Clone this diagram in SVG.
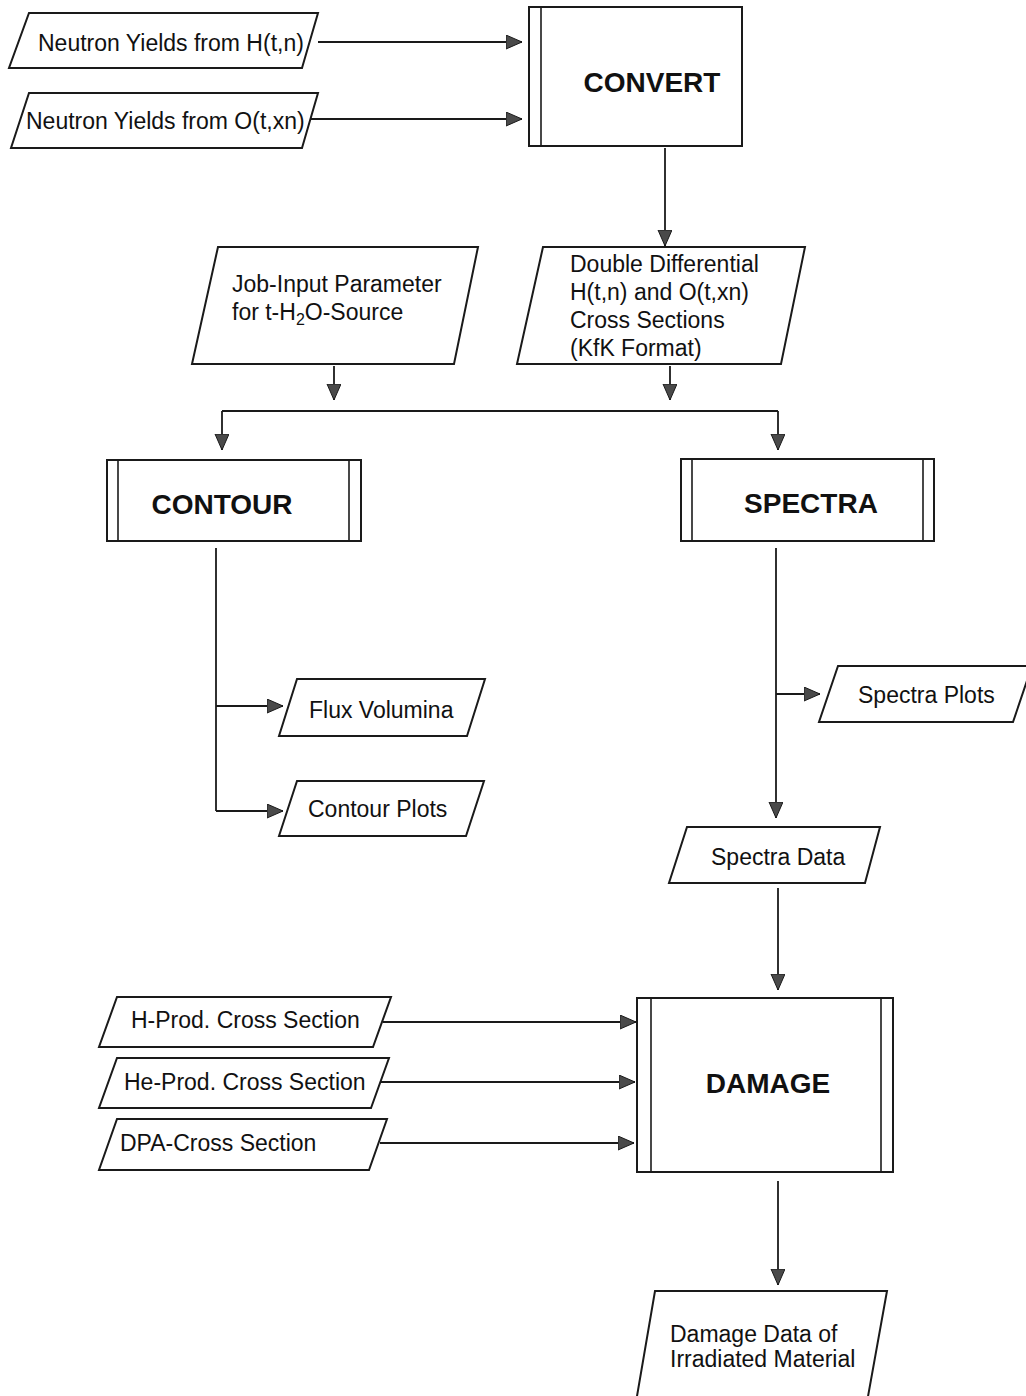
<svg xmlns="http://www.w3.org/2000/svg" width="1026" height="1396" viewBox="0 0 1026 1396">
<style>
.shape{fill:#fff;stroke:#1a1a1a;stroke-width:2}
.inner{stroke:#1a1a1a;stroke-width:1.6}
.lbl{font-family:"Liberation Sans",Arial,sans-serif;font-size:23px;fill:#111}
.proc{font-family:"Liberation Sans",Arial,sans-serif;font-size:28px;font-weight:bold;fill:#111;text-anchor:middle}
.conn{fill:none;stroke:#1a1a1a;stroke-width:1.8}
.sub{font-size:16px}
</style>
<defs>
<marker id="ah" markerUnits="userSpaceOnUse" markerWidth="18" markerHeight="16" refX="16" refY="7" orient="auto">
<path d="M0,0 L16,7 L0,14 Z" fill="#4a4a4a" stroke="#1a1a1a" stroke-width="1"/>
</marker>
</defs>
<rect width="1026" height="1396" fill="#fff"/>

<g id="connectors">
<path class="conn" marker-end="url(#ah)" d="M318,42 H522"/>
<path class="conn" marker-end="url(#ah)" d="M303,119 H522"/>
<path class="conn" marker-end="url(#ah)" d="M665,148 V246"/>
<path class="conn" marker-end="url(#ah)" d="M334,366 V400"/>
<path class="conn" marker-end="url(#ah)" d="M670,366 V400"/>
<path class="conn" d="M222,411 H778"/>
<path class="conn" marker-end="url(#ah)" d="M222,411 V450"/>
<path class="conn" marker-end="url(#ah)" d="M778,411 V450"/>
<path class="conn" d="M216,548 V811"/>
<path class="conn" marker-end="url(#ah)" d="M216,706 H283"/>
<path class="conn" marker-end="url(#ah)" d="M216,811 H283"/>
<path class="conn" marker-end="url(#ah)" d="M776,548 V818"/>
<path class="conn" marker-end="url(#ah)" d="M776,694 H820"/>
<path class="conn" marker-end="url(#ah)" d="M778,888 V990"/>
<path class="conn" marker-end="url(#ah)" d="M383,1022 H636"/>
<path class="conn" marker-end="url(#ah)" d="M381,1082 H635"/>
<path class="conn" marker-end="url(#ah)" d="M380,1143 H634"/>
<path class="conn" marker-end="url(#ah)" d="M778,1181 V1285"/>
</g>

<g id="n_yield_h">
<polygon class="shape" points="29,13 318,13 302,68 9,68"/>
<text class="lbl" x="38" y="51">Neutron Yields from H(t,n)</text>
</g>
<g id="n_yield_o">
<polygon class="shape" points="29,93 318,93 302,148 11,148"/>
<text class="lbl" x="26" y="129">Neutron Yields from O(t,xn)</text>
</g>
<g id="convert">
<rect class="shape" x="529" y="7" width="213" height="139"/>
<line class="inner" x1="541" y1="7" x2="541" y2="146"/>
<text class="proc" x="652" y="92">CONVERT</text>
</g>
<g id="job_input">
<polygon class="shape" points="218,247 478,247 454,364 192,364"/>
<text class="lbl" x="232" y="292">Job-Input Parameter</text>
<text class="lbl" x="232" y="320">for t-H<tspan class="sub" dy="5">2</tspan><tspan dy="-5">O-Source</tspan></text>
</g>
<g id="double_diff">
<polygon class="shape" points="543,247 805,247 781,364 517,364"/>
<text class="lbl" x="570" y="272">Double Differential</text>
<text class="lbl" x="570" y="300">H(t,n) and O(t,xn)</text>
<text class="lbl" x="570" y="328">Cross Sections</text>
<text class="lbl" x="570" y="356">(KfK Format)</text>
</g>
<g id="contour">
<rect class="shape" x="107" y="460" width="254" height="81"/>
<line class="inner" x1="118" y1="460" x2="118" y2="541"/>
<line class="inner" x1="349" y1="460" x2="349" y2="541"/>
<text class="proc" x="222" y="514">CONTOUR</text>
</g>
<g id="spectra">
<rect class="shape" x="681" y="459" width="253" height="82"/>
<line class="inner" x1="692" y1="459" x2="692" y2="541"/>
<line class="inner" x1="923" y1="459" x2="923" y2="541"/>
<text class="proc" x="811" y="513">SPECTRA</text>
</g>
<g id="flux_volumina">
<polygon class="shape" points="297,679 485,679 467,736 279,736"/>
<text class="lbl" x="309" y="718">Flux Volumina</text>
</g>
<g id="contour_plots">
<polygon class="shape" points="297,781 484,781 466,836 279,836"/>
<text class="lbl" x="308" y="817">Contour Plots</text>
</g>
<g id="spectra_plots">
<polygon class="shape" points="838,666 1032,666 1013,722 819,722"/>
<text class="lbl" x="858" y="703">Spectra Plots</text>
</g>
<g id="spectra_data">
<polygon class="shape" points="687,827 880,827 865,883 669,883"/>
<text class="lbl" x="711" y="865">Spectra Data</text>
</g>
<g id="h_prod">
<polygon class="shape" points="117,997 391,997 373,1047 99,1047"/>
<text class="lbl" x="131" y="1028">H-Prod. Cross Section</text>
</g>
<g id="he_prod">
<polygon class="shape" points="117,1058 389,1058 371,1108 99,1108"/>
<text class="lbl" x="124" y="1090">He-Prod. Cross Section</text>
</g>
<g id="dpa">
<polygon class="shape" points="117,1119 387,1119 369,1170 99,1170"/>
<text class="lbl" x="120" y="1151">DPA-Cross Section</text>
</g>
<g id="damage">
<rect class="shape" x="637" y="998" width="256" height="174"/>
<line class="inner" x1="651" y1="998" x2="651" y2="1172"/>
<line class="inner" x1="881" y1="998" x2="881" y2="1172"/>
<text class="proc" x="768" y="1093">DAMAGE</text>
</g>
<g id="damage_data">
<polygon class="shape" points="655,1291 887,1291 867,1402 636,1402"/>
<text class="lbl" x="670" y="1342">Damage Data of</text>
<text class="lbl" x="670" y="1367">Irradiated Material</text>
</g>
</svg>
